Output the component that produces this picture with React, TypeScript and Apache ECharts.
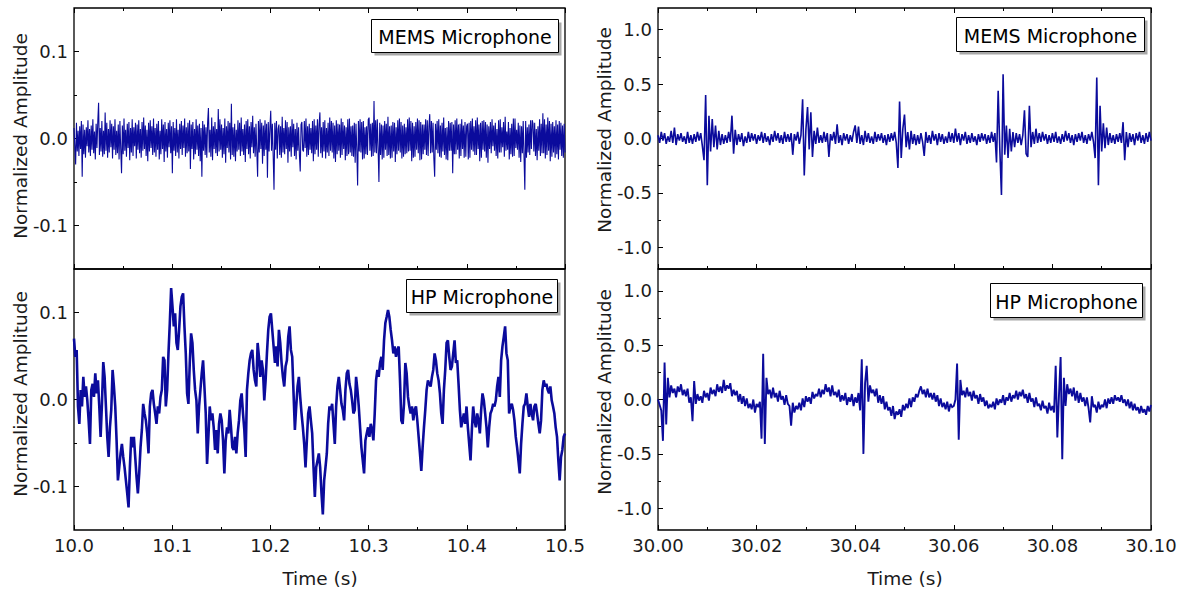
import React, { useEffect, useRef } from "react";
import * as echarts from "echarts";

// ---- data ----
// MEMS microphone, 10.0–10.5 s, values in thousandths of normalized amplitude
const memsLeft = [
  12,-8,-30,18,-15,9,-20,14,-12,20,-44,16,-18,10,-22,13,-9,21,-16,11,
  -20,15,-13,22,-17,8,-24,17,-11,19,41,-19,12,-15,20,-21,9,-18,30,-14,
  18,-22,11,-16,21,-10,17,-23,14,-13,22,-19,9,-17,16,-24,20,-12,-40,15,
  -18,23,-14,10,-21,17,-11,19,-25,12,-16,22,-20,13,-9,18,-23,16,-13,21,
  -17,11,-22,19,-14,24,-12,15,-20,10,-26,18,-15,21,-11,14,-19,23,-16,12,
  -21,17,-13,20,-24,9,-18,22,-12,16,-27,19,-15,11,-22,18,-10,21,-17,14,
  -40,19,-14,12,-20,22,-16,10,-23,17,-12,20,-19,15,-11,23,-21,13,-17,18,
  -15,21,-35,16,-12,19,-24,11,-18,22,-13,15,-20,17,-26,12,-44,20,-14,16,
  -19,13,-22,18,35,-16,10,-21,24,-25,14,-12,19,-17,11,-20,34,-15,22,-13,
  16,-22,12,-18,23,-28,14,-11,20,-16,18,-24,40,-19,13,-21,17,-26,10,-15,
  21,-13,18,-20,24,-15,11,-19,16,-27,20,-12,22,-18,14,-23,19,-10,26,-17,
  13,-21,17,-14,-44,20,-16,22,-12,18,-29,15,-20,21,-13,17,-45,19,-15,12,
  32,-14,17,-20,-59,18,-13,20,-23,11,16,-19,14,-22,25,-16,12,-18,21,-12,
  19,-28,13,-15,14,-21,22,-10,17,-20,11,-24,18,-14,13,-19,-38,16,19,-13,
  -15,20,-11,23,-21,14,-19,17,-13,12,-17,20,-26,22,-18,15,-13,22,-21,16,
  30,-17,13,-22,19,-15,21,-23,12,-16,18,-20,24,-14,20,-16,18,-23,15,-27,
  21,-18,17,-14,16,-22,23,-19,19,-12,15,-25,13,-20,22,-18,23,-16,14,-20,
  15,-21,18,-28,17,-13,-54,20,-15,22,-16,19,-24,20,-23,13,-18,14,-19,22,
  24,-14,17,-21,18,-20,43,-16,21,-17,22,-12,-50,18,-19,16,-24,15,-22,20,
  -13,17,-20,25,-19,14,-23,15,-22,19,-15,18,-27,13,-18,21,-14,23,-16,19,
  -23,15,-21,17,-18,13,-17,22,-15,24,-14,20,-26,18,-22,14,-21,19,-13,23,
  -17,21,-25,19,-24,16,-18,16,-13,22,-19,21,-20,14,28,-17,20,-16,18,-23,
  -44,17,-13,20,-17,22,-21,15,-22,18,-15,24,-19,12,-24,13,-25,20,-14,18,
  -14,19,-40,16,-18,21,-18,23,-13,16,-23,17,-20,22,-12,15,-22,19,-21,14,
  17,-24,18,-22,20,-13,23,-15,14,-19,21,-19,24,-12,16,-26,18,-22,20,-13,
  21,-15,19,-22,16,-28,14,-12,19,-17,22,-9,15,-14,18,-20,11,-23,21,-16,
  22,-16,13,-10,19,-21,25,-14,8,-13,19,-24,12,-18,17,-21,23,-20,23,-11,
  10,-13,18,-22,15,-27,14,-17,20,-21,-59,20,-22,13,-16,16,-19,21,-12,21,
  17,-15,18,-20,11,-25,14,-14,22,-20,17,-17,29,-17,22,-23,16,-19,24,-14,
  20,-26,17,-21,19,-16,14,-22,21,-18,16,-24,20,-13,18,-20,15,-22,17,-16,
];

// HP microphone, 10.0–10.5 s, thousandths
const hpLeft = [
  70,49,57,-8,-28,11,-8,26,3,15,-1,-24,-51,11,18,3,30,7,22,-8,-43,-5,43,26,-8,-43,-66,-32,-12,34,
  15,-8,-47,-93,-78,-62,-51,-66,-78,-93,-108,-124,-78,-43,-55,-43,-66,-89,-108,-85,-55,-35,-5,-16,-24,-39,-62,-8,7,11,
  -5,-16,-28,-8,-16,3,11,49,45,-8,11,53,88,128,107,84,99,65,57,80,107,118,122,84,53,7,-5,42,76,65,
  34,11,-1,-39,-8,11,30,45,15,-16,-74,-43,-8,-24,-16,-32,-58,-35,-62,-28,-16,-24,-47,-85,-47,-32,-39,-12,-32,-55,
  -58,-43,-62,-39,-24,-1,7,-16,-35,-66,11,30,45,53,57,34,22,15,65,49,26,45,34,-1,22,53,80,95,99,80,
  61,42,61,38,80,65,42,26,15,38,45,72,84,57,49,7,-35,-8,15,26,3,-16,-32,-51,-78,-47,-16,-8,-24,-39,
  -78,-112,-78,-70,-62,-78,
  -108,-132,-93,-78,-62,-28,-8,-12,-5,-28,-51,-8,15,26,11,-5,-12,-24,11,30,34,18,11,-1,-16,-12,26,11,-8,-32,
  -55,-70,-85,-47,-39,-32,-43,-28,-35,-47,-16,22,34,26,42,49,34,68,88,95,103,95,80,68,53,61,49,57,61,22,
  -24,-28,-5,42,30,3,-8,-16,-8,-24,-12,-8,-24,-43,-62,-82,-55,-32,-12,11,22,18,15,26,34,53,45,30,22,7,
  -16,-28,11,34,65,68,49,34,38,53,68,42,45,18,-12,-32,-24,-16,-28,-8,-32,-51,-70,-35,-8,-24,-32,-16,-24,-39,
  -12,7,-1,-16,-32,-55,-32,-16,-12,-5,-8,-1,15,26,3,45,61,72,84,53,45,-16,-8,-5,-12,-24,-43,-55,-70,-85,
  -51,-28,-8,-5,7,-8,-20,-5,-16,-24,-8,-5,-16,-28,-39,-24,11,22,15,18,11,7,15,-1,-8,-16,-32,-43,-70,-93,
  -66,-58,-43,-39,
];

// MEMS microphone, 30.00–30.10 s, hundredths
const memsRight = [
  3,-4,6,-2,5,-5,2,-3,7,-4,10,-6,4,-2,5,-3,2,-5,6,-4,
  3,-5,4,-3,6,-2,5,-7,-20,40,-43,21,-12,18,-8,12,-10,7,-6,4,
  -5,3,-4,6,-3,21,-14,8,-6,4,-3,5,-7,2,-4,6,-3,5,-2,4,
  -5,3,-2,6,-4,5,-3,2,-6,4,-3,7,-2,5,-4,3,-5,6,-3,4,
  -3,5,-15,4,-2,6,-5,3,36,-34,8,29,-10,24,-17,7,-5,10,-4,3,
  -4,6,-3,5,-17,4,-2,6,-5,13,-4,3,-6,5,-2,4,-5,3,-3,6,
  12,-4,11,-5,3,-6,7,-3,5,-4,2,-5,6,-3,4,-2,5,-4,3,-6,
  4,-3,5,-2,6,-4,-27,34,-18,9,22,-8,6,-10,7,-5,4,-6,3,-5,
  5,-3,-16,6,-4,3,-5,7,-2,4,-6,5,-3,4,-5,2,-4,6,-3,5,
  -4,9,-3,5,-6,4,-2,6,-5,3,-4,5,-3,2,-6,4,-3,5,-2,4,
  -5,3,-4,6,-3,5,-22,44,-10,-52,59,-15,12,-18,9,-12,6,-8,5,-4,
  4,-6,3,26,-14,-17,30,-8,6,-5,9,-4,5,-3,6,-2,4,-5,3,-4,
  5,-3,6,-4,2,-5,4,-3,7,-2,5,-4,3,-6,4,-3,5,-2,6,-4,
  3,-5,4,-2,6,-3,-18,56,-43,30,-12,14,-9,10,-6,5,-4,3,-5,4,
  -3,5,-4,15,-20,6,-8,5,-3,4,-6,5,-2,6,-4,3,-5,5,-3,6,
  -2,
];

// HP microphone, 30.00–30.10 s, hundredths
const hpRight = [
  0,-5,-10,-38,34,-23,20,2,13,6,10,2,12,7,14,4,9,3,10,-3,
  2,-20,17,-4,5,-1,3,-3,8,2,6,-1,11,5,9,3,14,7,12,6,
  18,8,13,10,15,3,9,4,8,-2,5,-4,3,-6,1,-8,-4,-9,0,-12,
  -4,-7,-2,-36,42,-41,20,5,9,1,11,2,6,-2,8,0,3,-5,4,-4,
  -6,-24,-3,-12,-6,-9,-3,-10,1,-7,3,-2,2,-4,7,1,5,3,10,2,
  9,5,14,7,11,3,13,4,7,2,9,-2,4,-1,6,-5,2,-2,5,-6,
  2,-3,6,-10,37,-50,15,31,-2,13,6,9,3,10,-3,4,-4,3,-9,-2,
  -10,-7,-15,-6,-18,-11,-14,-9,-16,-5,-10,-4,-8,1,-7,2,-2,5,2,8,
  12,5,9,2,10,2,6,0,6,-2,4,-6,1,-7,-3,-9,-2,-11,-4,-7,
  -6,0,33,-37,18,4,8,2,11,3,7,-1,8,1,4,-4,5,-2,2,-6,
  -1,-8,-5,-7,-2,-9,1,-5,0,-3,4,-5,2,-1,6,-2,4,1,8,0,
  7,3,9,1,5,-3,6,-2,1,-7,2,-6,-4,-10,-1,-8,-6,-13,-3,-10,
  -6,-12,31,-35,4,39,-55,20,-6,14,5,10,3,11,-1,8,-3,6,-2,2,
  -6,2,-8,-21,3,-7,-5,-12,-2,-9,-5,-7,0,-8,1,-4,2,-4,4,-1,
  2,-2,4,-3,0,-6,0,-8,-2,-10,-4,-10,-7,-13,-6,-12,-9,-14,-6,-11,
  -5,
];

const leftRange = [10.0, 10.5];
const rightRange = [30.0, 30.1];
const leftXInterval = 0.1;
const rightXInterval = 0.02;
const leftYRange = [-0.15, 0.15];
const rightYRange = [-1.2, 1.2];
const leftYLabels = [-0.1, 0, 0.1];
const leftYMinor = [-0.05, 0.05];
const rightYLabels = [-1, -0.5, 0, 0.5, 1];
const rightYMinor = [-0.75, -0.25, 0.25, 0.75];
const panelNames = ["MEMS Microphone", "HP Microphone", "MEMS Microphone", "HP Microphone"];
const xTitle = "Time (s)";
const yTitle = "Normalized Amplitude";

// ---- styling ----
const FONT = "'DejaVu Sans', sans-serif";
const LINE = "#0b0b9c";
const TXT = "#1a1a1a";

function toPairs(vals: number[], range: number[], scale: number) {
  const n = vals.length;
  return vals.map((v, i) => [range[0] + ((range[1] - range[0]) * i) / (n - 1), v * scale]);
}

const grids = [
  { left: 74, top: 8, width: 491, height: 261 },
  { left: 74, top: 269, width: 491, height: 261 },
  { left: 658, top: 8, width: 493, height: 261 },
  { left: 658, top: 269, width: 493, height: 261 },
];

function buildOption() {
  const xAxis: any[] = [];
  const yAxis: any[] = [];
  const series: any[] = [];
  const panels = [
    { data: memsLeft, scale: 0.001, xr: leftRange, xi: leftXInterval, xd: 1, yr: leftYRange, yl: leftYLabels, ym: leftYMinor, bottom: false, lw: 1.1 },
    { data: hpLeft, scale: 0.001, xr: leftRange, xi: leftXInterval, xd: 1, yr: leftYRange, yl: leftYLabels, ym: leftYMinor, bottom: true, lw: 2.6 },
    { data: memsRight, scale: 0.01, xr: rightRange, xi: rightXInterval, xd: 2, yr: rightYRange, yl: rightYLabels, ym: rightYMinor, bottom: false, lw: 1.6 },
    { data: hpRight, scale: 0.01, xr: rightRange, xi: rightXInterval, xd: 2, yr: rightYRange, yl: rightYLabels, ym: rightYMinor, bottom: true, lw: 1.9 },
  ];
  panels.forEach((p, g) => {
    const xBase = {
      type: "value",
      gridIndex: g,
      min: p.xr[0],
      max: p.xr[1],
      interval: p.xi,
      axisLine: { show: false, onZero: false },
      axisTick: { show: true, inside: true, length: 5, lineStyle: { color: "#000", width: 1 } },
      minorTick: { show: true, splitNumber: 2, length: 3, lineStyle: { color: "#000", width: 1 } },
      splitLine: { show: false },
      minorSplitLine: { show: false },
    };
    const xIdx = xAxis.length;
    xAxis.push({
      ...xBase,
      position: "bottom",
      axisLabel: {
        show: p.bottom,
        showMinLabel: true,
        showMaxLabel: true,
        formatter: (v: number) => v.toFixed(p.xd),
        fontFamily: FONT,
        fontSize: 18,
        color: TXT,
        margin: 6,
      },
    });
    if (!p.bottom) {
      xAxis.push({ ...xBase, position: "top", axisLabel: { show: false } });
    }
    const yIdx = yAxis.length;
    yAxis.push({
      type: "value",
      gridIndex: g,
      position: "left",
      min: p.yr[0],
      max: p.yr[1],
      axisLine: { show: false, onZero: false },
      axisTick: { show: true, inside: true, length: 5, customValues: p.yl, lineStyle: { color: "#000", width: 1 } },
      axisLabel: {
        customValues: p.yl,
        formatter: (v: number) => v.toFixed(1),
        fontFamily: FONT,
        fontSize: 18,
        color: TXT,
        margin: 6,
      },
      splitLine: { show: false },
    });
    yAxis.push({
      type: "value",
      gridIndex: g,
      position: "left",
      offset: 0,
      min: p.yr[0],
      max: p.yr[1],
      axisLine: { show: false, onZero: false },
      axisTick: { show: true, inside: true, length: 3, customValues: p.ym, lineStyle: { color: "#000", width: 1 } },
      axisLabel: { show: false },
      splitLine: { show: false },
    });
    series.push({
      type: "line",
      xAxisIndex: xIdx,
      yAxisIndex: yIdx,
      data: toPairs(p.data, p.xr, p.scale),
      showSymbol: false,
      symbol: "none",
      silent: true,
      lineStyle: { color: LINE, width: p.lw, join: "miter", miterLimit: 2 },
      z: 3,
    });
  });

  const legendBoxes = [
    { x: 371, y: 19, w: 187, h: 33 },
    { x: 406, y: 279, w: 151, h: 33 },
    { x: 956, y: 17, w: 188, h: 34 },
    { x: 990, y: 283, w: 152, h: 34 },
  ];
  const graphic: any[] = [];
  legendBoxes.forEach((b, i) => {
    graphic.push({
      type: "group",
      left: b.x,
      top: b.y,
      z: 100,
      children: [
        { type: "rect", shape: { x: 3, y: 3, width: b.w, height: b.h }, style: { fill: "#a8a8a8" } },
        { type: "rect", shape: { x: 0, y: 0, width: b.w, height: b.h }, style: { fill: "#fff", stroke: "#000", lineWidth: 1 } },
        {
          type: "text",
          x: b.w / 2,
          y: b.h / 2 + 1,
          style: { text: panelNames[i], font: `19px ${FONT}`, fill: "#000", align: "center", verticalAlign: "middle" },
        },
      ],
    });
  });
  const yTitles = [
    { x: 20, y: 136 },
    { x: 20, y: 394 },
    { x: 604, y: 130 },
    { x: 604, y: 392 },
  ];
  yTitles.forEach((t) => {
    graphic.push({
      type: "text",
      x: t.x,
      y: t.y,
      rotation: Math.PI / 2,
      style: { text: yTitle, font: `18.5px ${FONT}`, fill: TXT, align: "center", verticalAlign: "middle" },
    });
  });
  [320, 905].forEach((x) => {
    graphic.push({
      type: "text",
      x,
      y: 578,
      style: { text: xTitle, font: `18.5px ${FONT}`, fill: TXT, align: "center", verticalAlign: "middle" },
    });
  });

  return {
    animation: false,
    backgroundColor: "#fff",
    grid: grids.map((g) => ({ ...g, show: true, borderColor: "#000", borderWidth: 1.3, backgroundColor: "transparent" })),
    xAxis,
    yAxis,
    series,
    graphic,
  };
}

export default function App() {
  const ref = useRef<HTMLDivElement>(null);
  useEffect(() => {
    if (!ref.current) return;
    const chart = echarts.init(ref.current, null, { renderer: "svg" });
    chart.setOption(buildOption() as any);
    return () => chart.dispose();
  }, []);
  return <div ref={ref} style={{ position: "fixed", left: 0, top: 0, width: 1187, height: 596, background: "#fff" }} />;
}
